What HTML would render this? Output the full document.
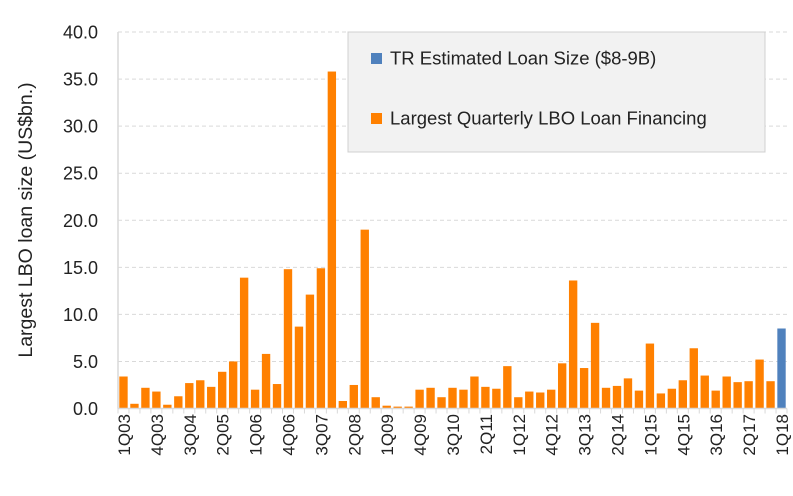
<!DOCTYPE html>
<html><head><meta charset="utf-8"><style>
body{margin:0;background:#fff;font-family:"Liberation Sans",sans-serif}
</style></head><body>
<svg id="chart" width="793" height="491" xmlns="http://www.w3.org/2000/svg" font-family="Liberation Sans, sans-serif"></svg>
<script>
const categories=[];
for(let y=3;y<=18;y++){for(let q=1;q<=4;q++){if(y===18&&q>1)break;categories.push(q+"Q"+String(y).padStart(2,"0"));}}
const loanValues=[3.4,0.5,2.2,1.8,0.4,1.3,2.7,3.0,2.3,3.9,5.0,13.9,2.0,5.8,2.6,14.8,8.7,12.1,14.9,35.8,0.8,2.5,19.0,1.2,0.3,0.2,0.2,2.0,2.2,1.2,
2.2,2.0,3.4,2.3,2.1,4.5,1.2,1.8,1.7,2.0,4.8,13.6,4.3,9.1,2.2,2.4,3.2,1.9,6.9,1.6,2.1,3.0,6.4,3.5,1.9,3.4,2.8,2.9,5.2,2.9,null];
const estimateValues=[];for(let i=0;i<60;i++)estimateValues.push(null);estimateValues.push(8.5);
const yTicks=[0,5,10,15,20,25,30,35,40];
const ns="http://www.w3.org/2000/svg",svg=document.getElementById("chart");
const L=118,R=787,T=32,B=408.5,n=categories.length,step=(R-L)/n;
const y=v=>B-(v/40)*(B-T), x=i=>L+i*step;
function mk(t,a,p){const e=document.createElementNS(ns,t);for(const k in a)e.setAttribute(k,a[k]);(p||svg).appendChild(e);return e;}
yTicks.forEach(v=>{
 if(v>0){const g=mk("line",{x1:L,x2:R,y1:y(v),y2:y(v),stroke:"#d9d9d9","stroke-dasharray":"4,3"});
 
 }
 const t=mk("text",{x:98,y:y(v)+6.5,"text-anchor":"end","font-size":"18",fill:"#222"});t.textContent=v.toFixed(1);
 
 
});
function bars(vals,color,name){vals.forEach((v,i)=>{if(v==null)return;
 const r=mk("rect",{x:x(i)+1.3,y:y(v),width:step-2.6,height:B-y(v),fill:color});
 
 });}
bars(loanValues,"#ff8000","loan-bar");
bars(estimateValues,"#4f81bd","estimate-bar");
const ax=mk("line",{x1:L,x2:R,y1:B,y2:B,stroke:"#d9d9d9","stroke-width":1.5});

const ay=mk("line",{x1:L,x2:L,y1:T,y2:B,stroke:"#d9d9d9","stroke-width":1.5});

for(let i=0;i<=n;i++){const tk=mk("line",{x1:x(i),x2:x(i),y1:B,y2:B+5,stroke:"#d9d9d9"});
 }
categories.forEach((c,i)=>{if(i%3)return;const cx=x(i)+step/2+6.5;
 const t=mk("text",{x:0,y:0,transform:`translate(${cx},414) rotate(-90)`,"text-anchor":"end","font-size":"17",fill:"#222"});t.textContent=c;
 });
const yt=mk("text",{transform:"translate(32,220) rotate(-90)","text-anchor":"middle","font-size":"19.5",fill:"#222"});yt.textContent="Largest LBO loan size (US$bn.)";

const lg=mk("g",{});
mk("rect",{x:348,y:32,width:417,height:120,fill:"#f2f2f2",stroke:"#d0d0d0"},lg);
[["#4f81bd","TR Estimated Loan Size ($8-9B)",63],["#ff8000","Largest Quarterly LBO Loan Financing",123]].forEach(([c,s,yy])=>{
 const e=mk("g",{},lg);
 mk("rect",{x:371,y:yy-10,width:11,height:11,fill:c},e);
 const t=mk("text",{x:390,y:yy+1.5,"font-size":"18.5",fill:"#222"},e);t.textContent=s;});
</script>
</body></html>
